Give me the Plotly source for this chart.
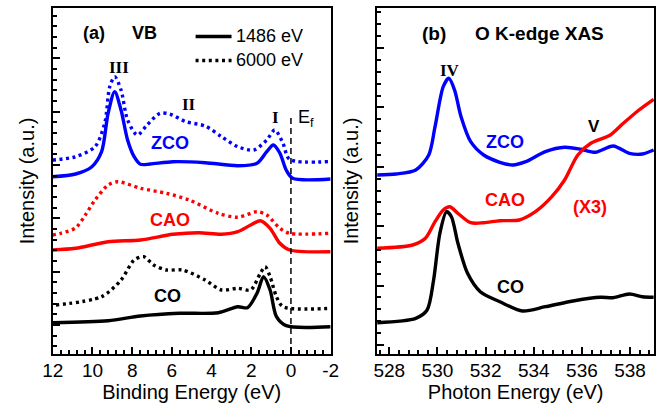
import plotly.graph_objects as go

# ---------------- Panel (a): valence band ----------------
be_zco_1486 = [12.0, 10.85, 10.03, 9.54, 9.21, 8.88, 8.56, 8.23, 7.90, 7.58, 7.09, 5.95, 4.32, 2.68, 1.71, 1.22, 0.89, 0.56, 0.24, -0.09, -2.0]
i_zco_1486 = [177.3, 180, 187.3, 202.3, 241, 262.3, 244, 214, 197.3, 189.7, 190, 192.3, 191.3, 188.3, 190.7, 202.3, 209, 201, 184, 175.7, 175]

be_zco_6000 = [12.0, 10.85, 9.87, 9.38, 9.13, 8.88, 8.56, 8.23, 7.74, 7.25, 6.60, 6.11, 5.29, 4.32, 3.50, 2.68, 1.87, 1.22, 0.81, 0.40, 0.07, -2.0]
i_zco_6000 = [194, 197.3, 207.3, 231, 267.3, 277.3, 264, 234, 219, 229, 240.7, 240, 232.3, 228, 217.3, 207.3, 204, 214, 224, 210.7, 194.7, 192.5]

be_cao_1486 = [12.0, 10.85, 9.21, 7.58, 5.95, 4.64, 3.50, 2.68, 2.03, 1.54, 1.05, 0.56, 0.07, -2.0]
i_cao_1486 = [104, 105.7, 112.3, 114, 119.7, 121.3, 119.7, 122.3, 129, 133.3, 125.7, 110.7, 104, 102.3]

be_cao_6000 = [12.0, 11.6, 10.85, 10.36, 9.87, 9.21, 8.72, 7.58, 6.27, 5.13, 3.66, 2.68, 1.71, 1.22, 0.56, 0.07, -2.0]
i_cao_6000 = [119, 120.7, 126, 139, 154, 169, 172.3, 165.7, 160.7, 154, 140.7, 136.7, 142.3, 139, 125.7, 120.7, 120.7]

be_co_1486 = [12.0, 9.21, 7.58, 5.62, 3.66, 2.68, 2.19, 1.71, 1.38, 1.05, 0.73, 0.24, -2.0]
i_co_1486 = [31.3, 33.3, 38, 40.7, 41.3, 47.3, 46.3, 60.7, 77.3, 64, 37.3, 28.3, 27.3]

be_co_6000 = [11.84, 9.54, 8.56, 7.90, 7.41, 6.92, 6.27, 5.46, 4.32, 3.50, 2.68, 2.03, 1.54, 1.30, 1.05, 0.73, 0.40, -2.0]
i_co_6000 = [49, 57.3, 74, 94, 97.3, 89, 84, 84, 74, 64, 65.7, 64, 80.7, 87.3, 77.3, 57.3, 47.3, 45.7]

EF = 0.0
be_ticks = [12, 10, 8, 6, 4, 2, 0, -2]
be_ticktext = ["12", "10", "8", "6", "4", "2", "0", "-2"]

# ---------------- Panel (b): O K-edge XAS ----------------
pe_zco = [527.49, 528.29, 529.10, 529.64, 529.90, 530.24, 530.47, 530.71, 530.98, 531.38, 531.92, 532.59, 533.13, 533.67, 534.48, 535.28, 535.96, 536.56, 537.30, 537.97, 538.51, 538.98]
i_zco = [179, 180, 184, 199, 227.3, 267.3, 275.7, 264, 237.3, 212.3, 199, 191.7, 189, 192.3, 202.3, 206.7, 204.7, 201.7, 208, 200.7, 200, 204]

pe_cao = [527.49, 528.97, 529.50, 529.90, 530.24, 530.51, 530.85, 531.38, 531.92, 532.59, 533.40, 534.07, 534.75, 535.28, 535.83, 536.37, 537.18, 537.72, 538.37, 538.98]
i_cao = [105.7, 109, 115.7, 132.3, 144, 147.3, 140.7, 131.3, 131.3, 133.3, 134, 142.3, 157.3, 174, 199, 210.7, 219, 230.7, 244, 254.7]

pe_co = [527.49, 529.10, 529.57, 529.84, 530.10, 530.38, 530.58, 530.85, 531.25, 531.78, 532.59, 533.53, 534.48, 535.69, 536.77, 537.30, 537.97, 538.51, 538.98]
i_co = [31.3, 35.7, 44, 74, 120.7, 142.3, 137.3, 110.7, 80.7, 62.3, 52.3, 43, 47.3, 53.3, 56.7, 56.3, 60, 57.3, 56.7]

BLUE = "#0000ff"
RED = "#ff0000"
BLACK = "#000000"
SANS = "Liberation Sans, Arial, sans-serif"
SERIF = "Liberation Serif, Times New Roman, serif"
DOT = "3px,3.6px"
LW = 3.4

fig = go.Figure()

def add(x, y, color, dash, xa, ya):
    fig.add_trace(go.Scatter(x=x, y=y, mode="lines", xaxis=xa, yaxis=ya,
                             line=dict(color=color, width=LW, dash=dash, shape="spline", smoothing=0.8),
                             showlegend=False, hoverinfo="skip"))

add(be_zco_6000, i_zco_6000, BLUE, DOT, "x", "y")
add(be_zco_1486, i_zco_1486, BLUE, "solid", "x", "y")
add(be_cao_6000, i_cao_6000, RED, DOT, "x", "y")
add(be_cao_1486, i_cao_1486, RED, "solid", "x", "y")
add(be_co_6000, i_co_6000, BLACK, DOT, "x", "y")
add(be_co_1486, i_co_1486, BLACK, "solid", "x", "y")

add(pe_zco, i_zco, BLUE, "solid", "x2", "y2")
add(pe_cao, i_cao, RED, "solid", "x2", "y2")
add(pe_co, i_co, BLACK, "solid", "x2", "y2")

# Fermi level
fig.add_trace(go.Scatter(x=[EF, EF], y=[0, 239], mode="lines", xaxis="x", yaxis="y",
                         line=dict(color=BLACK, width=1.5, dash="6px,4px"),
                         showlegend=False, hoverinfo="skip"))

W, H = 667, 407
ydom = [1 - 354 / H, 1 - 8 / H]

common_x = dict(showline=True, linecolor=BLACK, linewidth=2, mirror=True,
                ticks="inside", ticklen=7, tickwidth=1.5, tickcolor=BLACK,
                showgrid=False, zeroline=False,
                tickfont=dict(family=SANS, size=19, color=BLACK),
                ticklabelstandoff=-2,
                minor=dict(ticks="inside", ticklen=4, tickwidth=1.5, tickcolor=BLACK, dtick=0.4, showgrid=False),
                title_font=dict(family=SANS, size=20, color=BLACK), title_standoff=0)
common_y = dict(showline=True, linecolor=BLACK, linewidth=2, mirror=True,
                ticks="inside", ticklen=7, tickwidth=1.5, tickcolor=BLACK,
                showgrid=False, zeroline=False, showticklabels=False,
                range=[0, 346], title_text="Intensity (a.u.)",
                title_font=dict(family=SANS, size=20, color=BLACK), title_standoff=11)

fig.update_layout(
    width=W, height=H, margin=dict(l=0, r=0, t=0, b=0),
    paper_bgcolor="white", plot_bgcolor="white",
    xaxis=dict(domain=[43 / W, 329 / W], range=[12, -2], tickvals=be_ticks, ticktext=be_ticktext,
               title_text="Binding Energy (eV)", anchor="y", **common_x),
    yaxis=dict(domain=ydom, anchor="x", tick0=29, dtick=53.33,
               minor=dict(ticks="inside", ticklen=4, tickwidth=1.5, tickcolor=BLACK, dtick=10.667, tick0=29, showgrid=False),
               **common_y),
    xaxis2=dict(domain=[377 / W, 662 / W], range=[527.5, 539], tick0=528, dtick=2,
                title_text="Photon Energy (eV)", anchor="y2", **common_x),
    yaxis2=dict(domain=ydom, anchor="x2", tick0=9, dtick=59.4,
                minor=dict(ticks="inside", ticklen=4, tickwidth=1.5, tickcolor=BLACK, dtick=11.88, tick0=9, showgrid=False),
                **common_y),
)

def ann(text, x, y, xref, yref, size, color=BLACK, bold=True, family=SANS, xanchor="center", angle=0):
    t = f"<b>{text}</b>" if bold else text
    fig.add_annotation(text=t, x=x, y=y, xref=xref, yref=yref, showarrow=False,
                       xanchor=xanchor, yanchor="middle", textangle=angle,
                       font=dict(family=family, size=size, color=color))

# panel (a) labels
ann("(a)", 9.94, 321, "x", "y", 18)
ann("VB", 7.40, 321, "x", "y", 18)
ann("III", 8.67, 287, "x", "y", 17, family=SERIF)
ann("II", 5.15, 250, "x", "y", 17, family=SERIF)
ann("I", 0.79, 237, "x", "y", 17, family=SERIF)
ann("E<sub>f</sub>", -0.24, 236, "x", "y", 18, bold=False, xanchor="left")
ann("ZCO", 6.08, 211, "x", "y", 18, color=BLUE)
ann("CAO", 6.08, 134, "x", "y", 18, color=RED)
ann("CO", 6.22, 58, "x", "y", 18)

# panel (b) labels
ann("(b)", 529.84, 321, "x2", "y2", 19)
ann("O K-edge XAS", 534.23, 321, "x2", "y2", 19)
ann("IV", 530.52, 284, "x2", "y2", 17, family=SERIF)
ann("V", 536.49, 228, "x2", "y2", 17)
ann("ZCO", 532.82, 212, "x2", "y2", 18, color=BLUE)
ann("CAO", 532.82, 154, "x2", "y2", 18, color=RED)
ann("(X3)", 536.33, 147, "x2", "y2", 18, color=RED)
ann("CO", 533.02, 67, "x2", "y2", 18)

# legend (manual, panel a)
fig.add_shape(type="line", xref="paper", yref="paper", x0=190 / W, x1=227 / W,
              y0=1 - 36.5 / H, y1=1 - 36.5 / H, line=dict(color=BLACK, width=LW))
fig.add_shape(type="line", xref="paper", yref="paper", x0=190 / W, x1=227 / W,
              y0=1 - 60.5 / H, y1=1 - 60.5 / H, line=dict(color=BLACK, width=LW, dash=DOT))
ann("1486 eV", 230 / W, 1 - 36 / H, "paper", "paper", 18, bold=False, xanchor="left")
ann("6000 eV", 230 / W, 1 - 60 / H, "paper", "paper", 18, bold=False, xanchor="left")

fig.write_html("out.html")
